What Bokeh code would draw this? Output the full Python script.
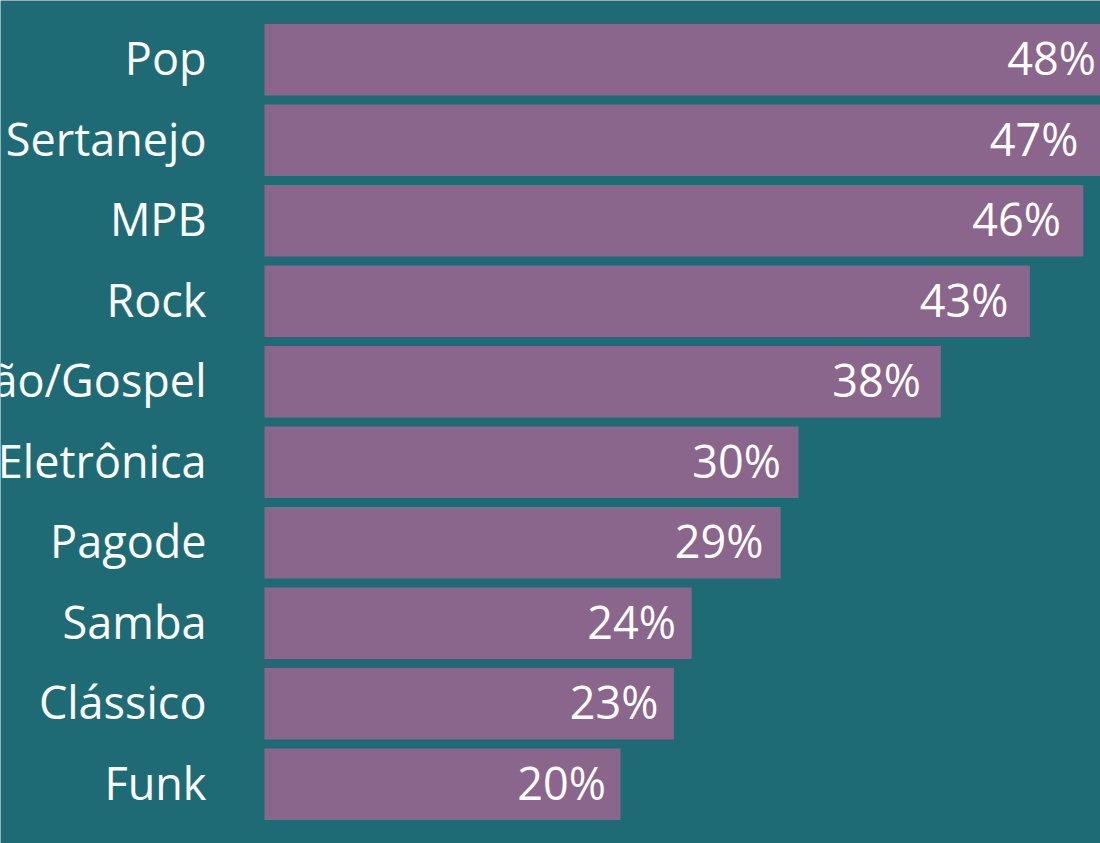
from bokeh.plotting import figure
from bokeh.models import ColumnDataSource, FactorRange, Range1d
from bokeh.core.properties import value
from bokeh.embed import file_html
from bokeh.resources import INLINE

genres = ["Pop", "Sertanejo", "MPB", "Rock", "Religião/Gospel", "Eletrônica",
          "Pagode", "Samba", "Clássico", "Funk"]
shares = [48, 47, 46, 43, 38, 30, 29, 24, 23, 20]
labels = [f"{v}%" for v in shares]

BG = "#1f6b75"
BAR = "#8a668c"
FONT = "Open Sans"

src = ColumnDataSource(dict(genre=genres, share=shares, label=labels,
                            zero=[0] * len(genres)))
# label anchor slightly scaled towards the bar end
src.data["label_x"] = [v * 0.983 for v in shares]

px_per = 17.8
left_px = 264
W, H = 1100, 843
p = figure(width=W, height=H, output_backend="svg", toolbar_location=None,
           y_range=FactorRange(factors=genres[::-1], range_padding=0.236,
                               range_padding_units="absolute"),
           x_range=Range1d(-left_px / px_per, (W - left_px) / px_per),
           min_border_left=0, min_border_right=0, min_border_top=0,
           min_border_bottom=0)
p.axis.visible = False
p.grid.visible = False
p.outline_line_color = None
p.background_fill_color = BG
p.border_fill_color = BG

p.hbar(y="genre", left="zero", right="share", height=0.89, source=src,
       fill_color=BAR, line_color=None)

p.text(x="label_x", y="genre", text="label", source=src, x_offset=-8.5, y_offset=-2,
       text_align="right", text_baseline="middle", text_color="white",
       text_font=value(FONT), text_font_size="45px")

p.text(x=-58 / px_per, y="genre", text="genre", source=src, y_offset=-2,
       text_align="right", text_baseline="middle", text_color="white",
       text_font=value(FONT), text_font_size="45px")

open("out.html", "w").write(file_html(p, INLINE))
